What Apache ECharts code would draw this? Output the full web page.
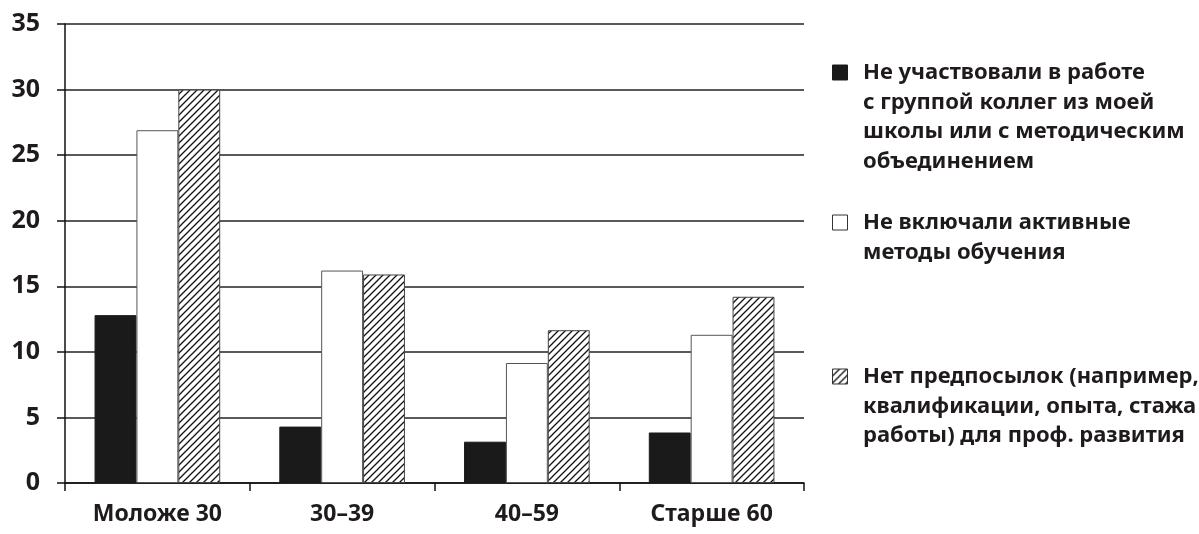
<!DOCTYPE html>
<html>
<head>
<meta charset="utf-8">
<script src="https://cdn.jsdelivr.net/npm/echarts@6/dist/echarts.min.js"></script>
<style>
  html, body { margin: 0; padding: 0; background: #fff; }
  #chart { width: 1199px; height: 534px; }
</style>
</head>
<body>
<div id="chart"></div>
<script>
// Age groups on the x axis
const categories = ['Моложе 30', '30–39', '40–59', 'Старше 60'];

// Series names and the line breaks used in the key on the right
const seriesNames = [
  'Не участвовали в работе с группой коллег из моей школы или с методическим объединением',
  'Не включали активные методы обучения',
  'Нет предпосылок (например, квалификации, опыта, стажа работы) для проф. развития'
];
const legendLines = [
  ['Не участвовали в работе', 'с группой коллег из моей', 'школы или с методическим', 'объединением'],
  ['Не включали активные', 'методы обучения'],
  ['Нет предпосылок (например,', 'квалификации, опыта, стажа', 'работы) для проф. развития']
];

// Values, %
const noGroupWork = [12.8, 4.3, 3.15, 3.85];
const noActiveMethods = [26.9, 16.2, 9.15, 11.3];
const noPrerequisites = [30.0, 15.9, 11.65, 14.2];

// Y axis ticks
const yMin = 0, yMax = 35, yStep = 5;

// Diagonal hatching tile
function hatchTile() {
  const s = 7;
  const c = document.createElement('canvas');
  c.width = s; c.height = s;
  const g = c.getContext('2d');
  g.fillStyle = '#fff';
  g.fillRect(0, 0, s, s);
  g.strokeStyle = '#111';
  g.lineWidth = 1.3;
  g.beginPath();
  g.moveTo(-1, s + 1); g.lineTo(s + 1, -1);
  g.moveTo(-1, 1); g.lineTo(1, -1);
  g.moveTo(s - 1, s + 1); g.lineTo(s + 1, s - 1);
  g.stroke();
  return c;
}

const FONT = '"Noto Sans", sans-serif';
const TEXT_COLOR = '#1f1b1c';
const LH = 29.5;

const chart = echarts.init(document.getElementById('chart'), null, { renderer: 'canvas' });

const hatch = { image: hatchTile(), repeat: 'repeat' };
const fills = [
  { color: '#1a1a1a', borderColor: '#1a1a1a' },
  { color: '#ffffff', borderColor: '#555' },
  { color: hatch, borderColor: '#444' }
];
const values = [noGroupWork, noActiveMethods, noPrerequisites];

// Key on the right: marker square + multi-line caption, first line level with the marker
const keyCenters = [72, 222, 376];
const keyGraphics = [];
seriesNames.forEach((name, i) => {
  const cy = keyCenters[i];
  keyGraphics.push({
    type: 'rect',
    left: 832, top: cy - 7.5,
    shape: { x: 0, y: 0, width: 15, height: 15 },
    style: {
      fill: fills[i].color,
      stroke: i === 0 ? '#1a1a1a' : '#333',
      lineWidth: 1
    },
    silent: true
  });
  keyGraphics.push({
    type: 'text',
    left: 863, top: cy - LH / 2 + 1,
    style: {
      text: legendLines[i].join('\n'),
      font: 'bold 22px ' + FONT,
      fill: TEXT_COLOR,
      lineHeight: LH,
      verticalAlign: 'top'
    },
    silent: true
  });
});

chart.setOption({
  animation: false,
  backgroundColor: '#fff',
  grid: { left: 65, right: 395, top: 24, bottom: 51, containLabel: false },
  graphic: keyGraphics,
  xAxis: {
    type: 'category',
    data: categories,
    boundaryGap: true,
    axisLine: { show: true, lineStyle: { color: '#111', width: 1.5 } },
    axisTick: { show: true, length: 8, lineStyle: { color: '#111', width: 1.5 } },
    axisLabel: {
      margin: 20,
      fontFamily: FONT,
      fontWeight: 'bold',
      fontSize: 23,
      color: TEXT_COLOR
    }
  },
  yAxis: {
    type: 'value',
    min: yMin,
    max: yMax,
    interval: yStep,
    axisLine: { show: true, lineStyle: { color: '#111', width: 1.5 } },
    axisTick: { show: true, length: 8, lineStyle: { color: '#111', width: 1.5 } },
    splitLine: { show: true, lineStyle: { color: '#222', width: 1.5 } },
    axisLabel: {
      margin: 25,
      fontFamily: FONT,
      fontWeight: 'bold',
      fontSize: 25,
      color: TEXT_COLOR
    }
  },
  series: seriesNames.map((name, i) => ({
    name,
    type: 'bar',
    data: values[i],
    barGap: '0%',
    barCategoryGap: '32%',
    itemStyle: {
      color: fills[i].color,
      borderColor: fills[i].borderColor,
      borderWidth: 1
    },
    emphasis: { disabled: true }
  }))
});
</script>
</body>
</html>
